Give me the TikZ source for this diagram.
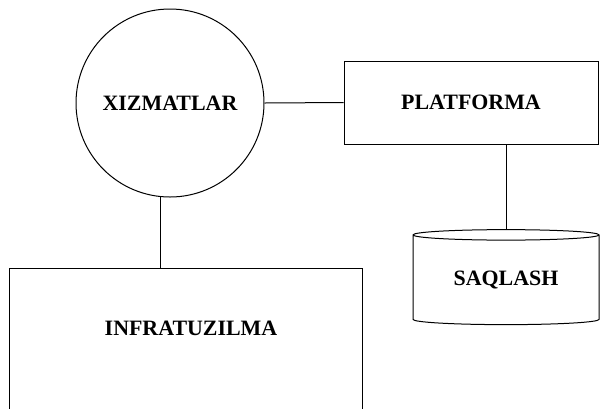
\documentclass[tikz,border=0pt]{standalone}
\usepackage{fontspec}
\setmainfont{Liberation Serif}
\usetikzlibrary{shapes.geometric}

\begin{document}
\begin{tikzpicture}[x=1bp, y=-1bp,
				kasten/.style={draw, rectangle, inner sep=0pt},
				titel/.style={font=\fontsize{22}{26}\selectfont\bfseries},
				line width=1bp]
				%Bildbereich
				\useasboundingbox (0,0) rectangle (601,408);
				\clip (0,0) rectangle (601,408);
				% Knoten
				\node[draw, circle, minimum size=188bp, inner sep=0pt, titel] (xiz) at (170,103) {XIZMATLAR};
				\node[kasten, minimum width=254bp, minimum height=83bp, titel] (plat) at (471,102.5) {PLATFORMA};
				\node[draw, cylinder, shape border rotate=90, aspect=0.1, minimum width=186bp, minimum height=95bp, inner sep=0pt, titel] (saq) at (506,280) {SAQLASH};
				\node[kasten, minimum width=352bp, minimum height=160bp] (infra) at (186,348) {};
				\node[titel] (infratext) at (191,328) {INFRATUZILMA};
				% Verbindungen
				\draw (xiz.east) -- (plat.west);
				\draw (xiz.264) -- (xiz.264 |- infra.north);
				\draw (plat.south -| saq.north) -- (saq.north);
			\end{tikzpicture}
\end{document}
